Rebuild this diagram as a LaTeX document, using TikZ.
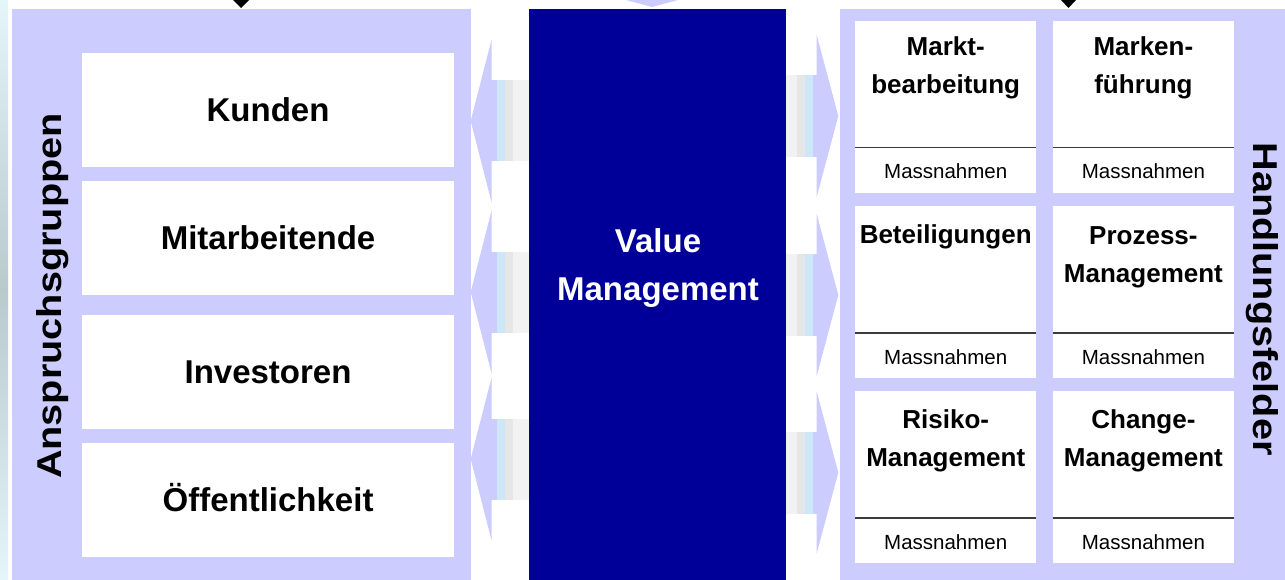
\documentclass[tikz,border=0pt]{standalone}
\usepackage{fontspec}
\setmainfont{Liberation Sans}
\newfontfamily\sidefont[FakeStretch=1.15]{Liberation Sans}

\definecolor{lav}{HTML}{CCCCFF}
\definecolor{navyblue}{HTML}{000099}
\definecolor{shaftblue}{HTML}{CCE8F8}
\definecolor{shaftgray}{HTML}{E6E6E6}
\definecolor{shaftpale}{HTML}{F2F2F2}
\definecolor{divgray}{HTML}{3C3C3C}
\definecolor{edgecyan}{HTML}{E4F6FA}
\definecolor{edgegray}{HTML}{B9C9CC}

\begin{document}
\begin{tikzpicture}[x=1pt,y=-1pt,
  panel/.style={rectangle, fill=lav, draw=none, inner sep=0, anchor=north west},
  whitebox/.style={rectangle, fill=white, draw=none, inner sep=0, anchor=north west},
  grouptext/.style={font=\fontsize{33}{40}\selectfont\bfseries, text height=23.6pt, text depth=0pt},
  sidetext/.style={font=\sidefont\fontsize{34.5}{40}\selectfont\bfseries, inner sep=0, anchor=base},
  fieldtitle/.style={font=\fontsize{26}{38}\selectfont\bfseries, anchor=base, inner sep=0},
  measure/.style={font=\fontsize{20.5}{24}\selectfont, inner sep=0},
  coretext/.style={font=\fontsize{33}{48}\selectfont\bfseries, text=white, anchor=base, inner sep=0},
  divider/.style={draw=divgray, line width=1.6pt},
]
\useasboundingbox (0,0) rectangle (1285,580);
\fill[white] (0,0) rectangle (1285,580);

% faint strip along the left border
\shade[top color=edgecyan, bottom color=edgecyan, middle color=edgegray] (0,0) rectangle (8,580);

% incoming arrow tips along the top edge
\fill[black] (233,0) -- (249,0) -- (241,8) -- cycle;
\fill[black] (1061,0) -- (1076,0) -- (1068.5,8) -- cycle;
\fill[lav] (626,0) -- (678,0) -- (652,7) -- cycle;

% the three panels
\node[panel, minimum width=458.7pt, minimum height=573pt] (lpanel) at (12,9) {};
\node[panel, minimum width=448pt, minimum height=573pt] (rpanel) at (839.3,9) {};

% stakeholder groups
\node[whitebox, grouptext, minimum width=372.3pt, minimum height=114pt] (kunden) at (81.7,52.7) {Kunden};
\node[whitebox, grouptext, minimum width=372.3pt, minimum height=114pt] (mitarb) at (81.7,181) {Mitarbeitende};
\node[whitebox, grouptext, minimum width=372.3pt, minimum height=114pt] (invest) at (81.7,314.3) {Investoren};
\node[whitebox, grouptext, minimum width=372.3pt, minimum height=114pt] (oeff) at (81.7,442.5) {Öffentlichkeit};
\node[sidetext, rotate=90] (anspruch) at (61.7,296) {Anspruchsgruppen};

% fields of action
\foreach \nm/\x/\y in {f11/855/20.7, f12/1052.7/20.7, f21/855/206, f22/1052.7/206, f31/855/391, f32/1052.7/391} {
  \node[whitebox, minimum width=181pt, minimum height=172pt] (\nm) at (\x,\y) {};
  \draw[divider] ([yshift=45.5pt]\nm.south west) -- ([yshift=45.5pt]\nm.south east);
  \node[measure] (\nm m) at ([yshift=21.5pt]\nm.south) {Massnahmen};
}
\node[fieldtitle] (f11a) at ([yshift=-34.5pt]f11.north) {Markt-};
\node[fieldtitle] (f11b) at ([yshift=-73pt]f11.north) {bearbeitung};
\node[fieldtitle] (f12a) at ([yshift=-34.5pt]f12.north) {Marken-};
\node[fieldtitle] (f12b) at ([yshift=-73pt]f12.north) {führung};
\node[fieldtitle] (f21a) at ([yshift=-37.5pt]f21.north) {Beteiligungen};
\node[fieldtitle] (f22a) at ([yshift=-38pt]f22.north) {Prozess-};
\node[fieldtitle] (f22b) at ([yshift=-76pt]f22.north) {Management};
\node[fieldtitle] (f31a) at ([yshift=-37pt]f31.north) {Risiko-};
\node[fieldtitle] (f31b) at ([yshift=-75pt]f31.north) {Management};
\node[fieldtitle] (f32a) at ([yshift=-37pt]f32.north) {Change-};
\node[fieldtitle] (f32b) at ([yshift=-75pt]f32.north) {Management};
\node[sidetext, rotate=-90] (handlung) at (1253.5,299) {Handlungsfelder};

% double arrows: heads on the stakeholder side
\foreach \c in {121,292,459} {
  \fill[lav] (470.7,\c) -- (491.7,\c-82) -- (491.7,\c+82) -- cycle;
  \fill[lav] (491,\c-40.5) rectangle (496.7,\c+40.5);
  \fill[shaftblue] (496.7,\c-40.5) rectangle (505,\c+40.5);
  \fill[shaftgray] (505,\c-40.5) rectangle (513,\c+40.5);
  \fill[shaftpale] (513,\c-40.5) rectangle (530,\c+40.5);
}
% double arrows: heads on the fields side
\foreach \c in {116,295,472.5} {
  \fill[shaftpale] (784,\c-41) rectangle (797,\c+41);
  \fill[shaftgray] (797,\c-41) rectangle (805,\c+41);
  \fill[shaftblue] (805,\c-41) rectangle (813,\c+41);
  \fill[lav] (813,\c-41) rectangle (817.5,\c+41);
  \fill[lav] (838.3,\c) -- (816.7,\c-81) -- (816.7,\c+81) -- cycle;
}

% central block
\node[panel, fill=navyblue, minimum width=256.6pt, minimum height=573pt] (mpanel) at (528.7,9) {};
\node[coretext] (vm1) at (658,252.5) {Value};
\node[coretext] (vm2) at (658,300.7) {Management};
\end{tikzpicture}
\end{document}
